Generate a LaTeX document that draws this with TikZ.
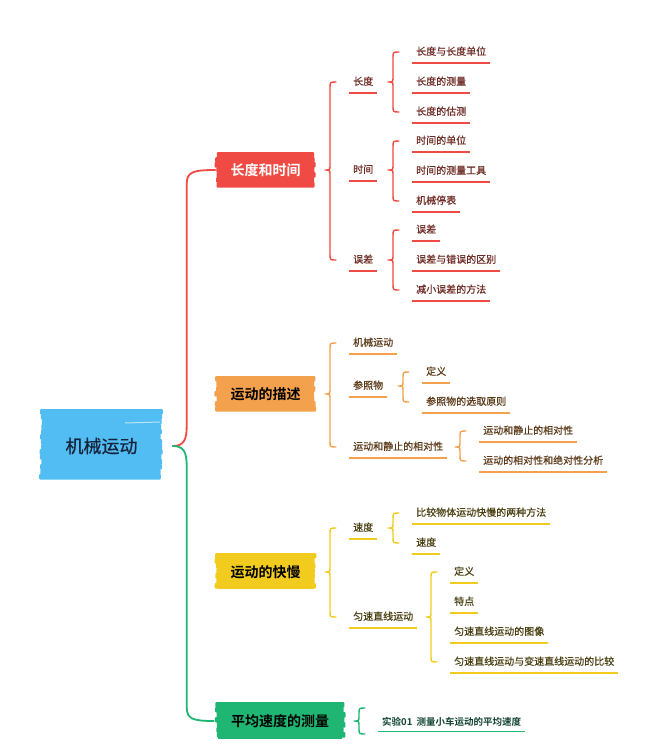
\documentclass[tikz,border=0pt]{standalone}
\usepackage{fontspec}
\setmainfont{Noto Sans CJK SC}[BoldFont={Noto Sans CJK SC Bold}]
\newfontfamily\medf{Noto Sans CJK SC}[FakeBold=0.5]
\usetikzlibrary{calc,backgrounds}
\definecolor{cblue}{HTML}{52BDF2}
\definecolor{cred}{HTML}{EF4A43}
\definecolor{corange}{HTML}{F4A14D}
\definecolor{cyellow}{HTML}{F2CB1F}
\definecolor{cgreen}{HTML}{1FB673}
\definecolor{tred}{HTML}{6E2A24}
\definecolor{torange}{HTML}{5C3A18}
\definecolor{tyellow}{HTML}{4A4012}
\definecolor{tgreen}{HTML}{0F4231}
\definecolor{tnavy}{HTML}{15233D}
\tikzset{
  mainbox/.style={fill=#1,minimum width=96pt,minimum height=34pt,inner sep=0pt,
    font=\bfseries\fontsize{14}{16}\selectfont},
  leaf/.style={anchor=west,inner xsep=4pt,inner ysep=6pt,text height=8pt,text depth=2pt,
    font=\medf\fontsize{10}{12}\selectfont},
  uline/.style={line width=1.5pt},
  brline/.style={line width=1.4pt,line cap=round,line join=round},
}
% brush strokes behind a box: x1,y1 (top left), x2,y2 (bottom right), colour
\newcommand\brush[5]{%
  \begin{scope}[on background layer]
  \pgfmathsetmacro\ystep{#2+5}\pgfmathsetmacro\yend{#4-5}
  \foreach \yy in {#2,\ystep,...,\yend} {
    \pgfmathsetmacro\la{#1-rnd*3}\pgfmathsetmacro\ra{#3+rnd*3}
    \fill[#5,rounded corners=1pt] (\la,\yy) rectangle (\ra,\yy+5.6);}
  \end{scope}}
\newcommand\lf[6]{\node[leaf,text=#5] (#1) at (#2,#3) {#4};
  \draw[#6,uline] (#1.south west) -- (#1.south east);}
\newcommand\brc[4]{%
  \draw[#1,brline] let \p1=(#2.center), \p2=(#3.west), \p3=(#4.west) in
    (\x2-13pt,\y2) .. controls (\x2-19pt,\y2) .. (\x2-19pt,\y2-6pt)
    -- (\x2-19pt,\y1+5pt) .. controls (\x2-19pt,\y1) .. (\x2-24pt,\y1)
    .. controls (\x2-19pt,\y1) .. (\x2-19pt,\y1-5pt)
    -- (\x3-19pt,\y3+6pt) .. controls (\x3-19pt,\y3) .. (\x3-13pt,\y3);}
\begin{document}
\begin{tikzpicture}[x=1pt,y=-1pt]
\pgfmathsetseed{11}
\useasboundingbox (0,0) rectangle (650,745);
\begin{scope}[on background layer]
\fill[white] (0,0) rectangle (650,745);
\end{scope}

% root
\brush{42}{409}{160}{482}{cblue}
\node[fill=cblue,minimum width=112pt,minimum height=66pt,inner sep=0pt,
  text=tnavy,font=\medf\fontsize{18}{20}\selectfont] (root) at (101.5,446) {机械运动};
\draw[white,opacity=0.6,line width=1pt] (125,423) -- (160,422);

% main branches
\brush{217}{152}{314}{189}{cred}
\node[mainbox=cred,text=white] (b1) at (265.5,170) {长度和时间};
\brush{217}{376}{314}{412}{corange}
\node[mainbox=corange,text=black] (b2) at (265.5,394) {运动的描述};
\brush{217}{553}{314}{591}{cyellow}
\node[mainbox=cyellow,text=black] (b3) at (265.5,572) {运动的快慢};
\brush{217}{702}{343}{741}{cgreen}
\node[mainbox=cgreen,text=black,minimum width=124pt,minimum height=36pt] (b4) at (280,721) {平均速度的测量};

% main brace
\draw[cred,line width=1.8pt,line cap=round] let \p1=(root.east), \p2=(b1.west) in
  (\x1+15pt,\y1) .. controls (\x1+26pt,\y1) and (\x1+29pt,\y1+6pt) .. (\x1+29pt,\y1+20pt)
  -- (\x1+29pt,\y2-14pt) .. controls (\x1+29pt,\y2-2pt) and (\x1+35pt,\y2) .. (\x2-2pt,\y2);
\draw[cgreen,line width=1.8pt,line cap=round] let \p1=(root.east), \p2=(b4.west) in
  (\x1+15pt,\y1) .. controls (\x1+26pt,\y1) and (\x1+29pt,\y1-6pt) .. (\x1+29pt,\y1-20pt)
  -- (\x1+29pt,\y2+14pt) .. controls (\x1+29pt,\y2+2pt) and (\x1+35pt,\y2) .. (\x2-4pt,\y2);

% branch 1
\lf{cd}{349}{82}{长度}{tred}{cred}
\lf{sj}{349}{170}{时间}{tred}{cred}
\lf{wc}{349}{260}{误差}{tred}{cred}
\lf{cd1}{412}{52}{长度与长度单位}{tred}{cred}
\lf{cd2}{412}{82}{长度的测量}{tred}{cred}
\lf{cd3}{412}{112}{长度的估测}{tred}{cred}
\lf{sj1}{412}{141}{时间的单位}{tred}{cred}
\lf{sj2}{412}{171}{时间的测量工具}{tred}{cred}
\lf{sj3}{412}{201}{机械停表}{tred}{cred}
\lf{wc1}{412}{230}{误差}{tred}{cred}
\lf{wc2}{412}{260}{误差与错误的区别}{tred}{cred}
\lf{wc3}{412}{290}{减小误差的方法}{tred}{cred}
\brc{cred}{b1}{cd}{wc}
\brc{cred}{cd}{cd1}{cd3}
\brc{cred}{sj}{sj1}{sj3}
\brc{cred}{wc}{wc1}{wc3}

% branch 2
\lf{jx}{349}{343}{机械运动}{torange}{corange}
\lf{cz}{349}{386}{参照物}{torange}{corange}
\lf{yd}{349}{447}{运动和静止的相对性}{torange}{corange}
\lf{cz1}{422}{372}{定义}{torange}{corange}
\lf{cz2}{422}{402}{参照物的选取原则}{torange}{corange}
\lf{yd1}{479}{431}{运动和静止的相对性}{torange}{corange}
\lf{yd2}{479}{461}{运动的相对性和绝对性分析}{torange}{corange}
\brc{corange}{b2}{jx}{yd}
\brc{corange}{cz}{cz1}{cz2}
\brc{corange}{yd}{yd1}{yd2}

% branch 3
\lf{sd}{349}{528}{速度}{tyellow}{cyellow}
\lf{yz}{349}{617}{匀速直线运动}{tyellow}{cyellow}
\lf{sd1}{412}{513}{比较物体运动快慢的两种方法}{tyellow}{cyellow}
\lf{sd2}{412}{543}{速度}{tyellow}{cyellow}
\lf{yz1}{450}{572}{定义}{tyellow}{cyellow}
\lf{yz2}{450}{602}{特点}{tyellow}{cyellow}
\lf{yz3}{450}{632}{匀速直线运动的图像}{tyellow}{cyellow}
\lf{yz4}{450}{662}{匀速直线运动与变速直线运动的比较}{tyellow}{cyellow}
\brc{cyellow}{b3}{sd}{yz}
\brc{cyellow}{sd}{sd1}{sd2}
\brc{cyellow}{yz}{yz1}{yz4}

% branch 4
\node[leaf,text=tgreen,inner ysep=4.5pt,font=\bfseries\fontsize{9.5}{11}\selectfont] (sy) at (378,722) {实验01\ \ 测量小车运动的平均速度};
\draw[cgreen,uline] (sy.south west) -- (sy.south east);
\draw[cgreen,brline] let \p1=(b4.center), \p2=(sy.west) in
  (\x2-13pt,\y1+13pt) .. controls (\x2-19pt,\y1+13pt) .. (\x2-19pt,\y1+7pt)
  -- (\x2-19pt,\y1+5pt) .. controls (\x2-19pt,\y1) .. (\x2-24pt,\y1)
  .. controls (\x2-19pt,\y1) .. (\x2-19pt,\y1-5pt)
  -- (\x2-19pt,\y1-7pt) .. controls (\x2-19pt,\y1-13pt) .. (\x2-13pt,\y1-13pt);
\end{tikzpicture}
\end{document}
